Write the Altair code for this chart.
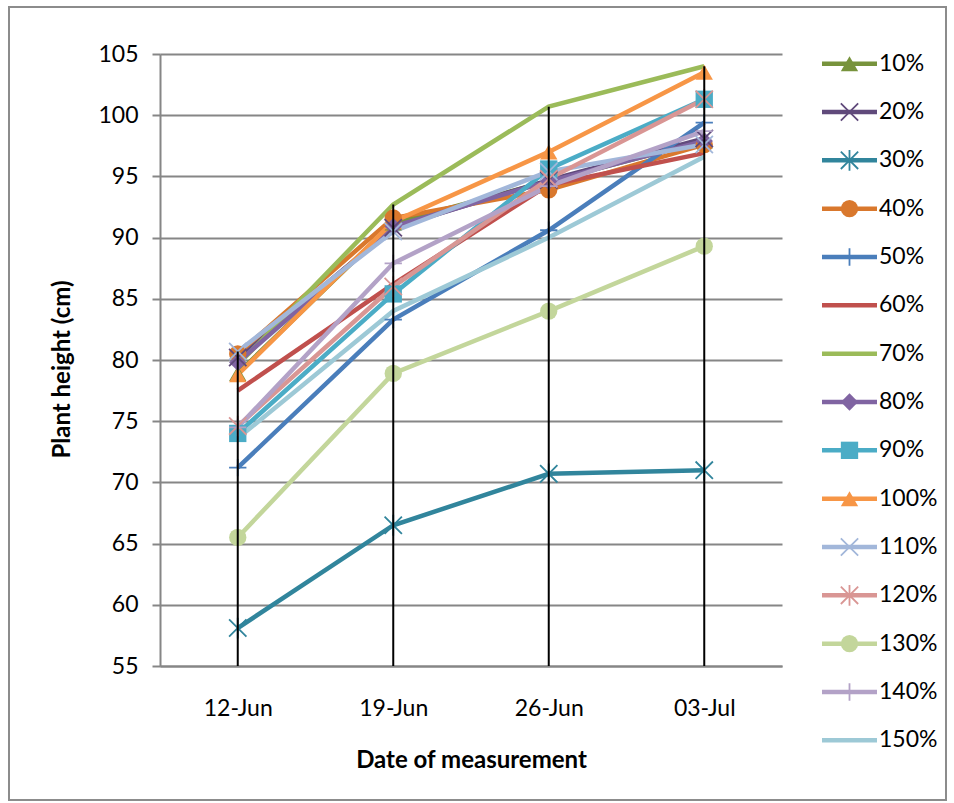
import altair as alt
import pandas as pd

dates = ["12-Jun", "19-Jun", "26-Jun", "03-Jul"]
pcts = [10, 20, 30, 40, 50, 60, 70, 80, 90, 100, 110, 120, 130, 140, 150]
labels = [f"{p}%" for p in pcts]

s10 = [78.9, 91.2, 94.6, 97.9]
s20 = [80.2, 90.8, 94.7, 98.1]
s30 = [58.1, 66.5, 70.7, 71.0]
s40 = [80.5, 91.6, 93.9, 97.6]
s50 = [71.2, 83.3, 90.6, 99.4]
s60 = [77.5, 86.2, 94.3, 96.9]
s70 = [79.6, 92.7, 100.7, 104.0]
s80 = [79.8, 90.9, 94.6, 97.9]
s90 = [74.0, 85.4, 95.6, 101.3]
s100 = [78.8, 91.3, 97.0, 103.5]
s110 = [80.7, 90.5, 95.4, 97.6]
s120 = [74.6, 86.0, 94.8, 101.3]
s130 = [65.5, 78.9, 84.0, 89.3]
s140 = [74.5, 87.9, 94.2, 98.7]
s150 = [73.6, 84.0, 90.0, 96.6]
all_series = [s10, s20, s30, s40, s50, s60, s70, s80, s90, s100, s110, s120, s130, s140, s150]

colors = ["#77933C", "#604A7B", "#31859C", "#D9782D", "#4A7EBB", "#C0504D", "#9BBB59",
          "#8064A2", "#4BACC6", "#F79646", "#A2B7DA", "#D99694", "#C3D69B", "#B3A2C7", "#9DC9D6"]

# marker styles: (series, shape, filled)
X_PATH = "M-1,-1L1,1M-1,1L1,-1"
AST_PATH = "M-1,-1L1,1M-1,1L1,-1M0,-1.2L0,1.2"
PLUS_PATH = "M-1,0L1,0M0,-1L0,1"
marker_groups = [
    ([10, 100], "triangle-up", True),
    ([40, 130], "circle", True),
    ([80], "diamond", True),
    ([90], "square", True),
    ([20, 110], X_PATH, False),
    ([30, 120], AST_PATH, False),
    ([50, 140], PLUS_PATH, False),
]

rows = []
for p, lab, vals in zip(pcts, labels, all_series):
    for d, v in zip(dates, vals):
        rows.append({"date": d, "pct": p, "label": lab, "value": v})
df = pd.DataFrame(rows)
leg = pd.DataFrame({"pct": pcts, "label": labels})

FONT = "Lato"
color_scale = alt.Scale(domain=pcts, range=colors)
color_enc = alt.Color("pct:O", scale=color_scale, legend=None)
x_enc = alt.X("date:O", sort=dates, scale=alt.Scale(type="point", padding=0.5),
              axis=alt.Axis(title="Date of measurement", ticks=False, labelAngle=0,
                            labelPadding=31, domainColor="#868686", domainWidth=2,
                            labelFont=FONT, labelFontSize=23, labelColor="black",
                            titleFont=FONT, titleFontSize=24, titleFontWeight="bold",
                            titleColor="black",
                            titleX=311, titleY=94, titleAlign="center",
                            titleBaseline="middle"))
y_enc = alt.Y("value:Q", scale=alt.Scale(domain=[55, 105], nice=False, zero=False),
              axis=alt.Axis(title="Plant height (cm)", values=list(range(55, 106, 5)),
                            tickSize=8, tickWidth=2, tickColor="#868686",
                            domainColor="#868686", domainWidth=2,
                            gridColor="#868686", gridWidth=2, labelPadding=14,
                            labelFont=FONT, labelFontSize=23, labelColor="black",
                            titleFont=FONT, titleFontSize=24, titleFontWeight="bold",
                            titleColor="black",
                            titleX=-98, titleY=315, titleAngle=-90,
                            titleAlign="center", titleBaseline="middle"))

base = alt.Chart(df)

frame = alt.Chart(pd.DataFrame({"a": [0]})).mark_rect(
    fill=None, stroke="#8C8C8C", strokeWidth=2
).encode(x=alt.value(-151), x2=alt.value(786), y=alt.value(-47), y2=alt.value(746))

lines = base.mark_line(strokeWidth=4.5).encode(
    x=x_enc, y=y_enc, color=color_enc,
)

marker_layers = []
for grp, shp, filled in marker_groups:
    kw = dict(filled=True) if filled else dict(filled=False, strokeWidth=1.8)
    marker_layers.append(
        base.transform_filter(alt.FieldOneOfPredicate(field="pct", oneOf=grp))
        .mark_point(shape=shp, size=300, opacity=1, **kw)
        .encode(x=x_enc, y=y_enc, color=color_enc)
    )

drops = base.transform_aggregate(top="max(value)", groupby=["date"]).mark_rule(
    color="black", strokeWidth=2
).encode(x=x_enc, y=alt.Y("top:Q"), y2=alt.datum(55))

main = alt.layer(frame, lines, *marker_layers, drops).properties(width=622, height=612)

# legend panel
ly = alt.Y("pct:O", scale=alt.Scale(type="point", padding=0.2, domain=pcts), axis=None)
lbase = alt.Chart(leg)
l_lines = lbase.mark_rule(strokeWidth=4.5).encode(
    x=alt.value(0), x2=alt.value(55), y=ly, color=color_enc)
l_markers = []
for grp, shp, filled in marker_groups:
    kw = dict(filled=True) if filled else dict(filled=False, strokeWidth=1.8)
    l_markers.append(
        lbase.transform_filter(alt.FieldOneOfPredicate(field="pct", oneOf=grp))
        .mark_point(shape=shp, size=300, opacity=1, **kw)
        .encode(x=alt.value(27.5), y=ly, color=color_enc)
    )
l_text = lbase.mark_text(align="left", baseline="middle", font=FONT, fontSize=23, color="black").encode(
    x=alt.value(57), y=ly, text="label:N")

legend_panel = alt.layer(l_lines, *l_markers, l_text).properties(width=60, height=696)

chart = alt.hconcat(main, legend_panel, spacing=40, bounds="flush").properties(
    padding={"left": 8, "top": 6, "right": 0, "bottom": 0},
    background="white",
).configure_view(stroke=None)

chart.save("out.html", embed_options={"renderer": "svg", "actions": False})
